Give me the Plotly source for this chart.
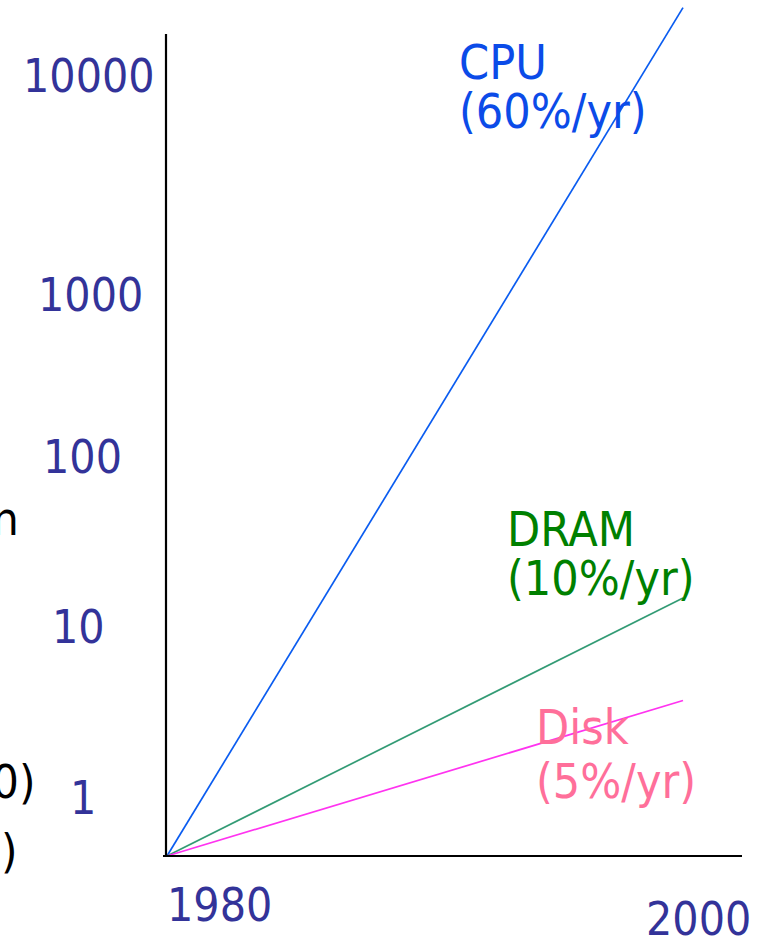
import plotly.graph_objects as go

W, H = 764, 937

# ---- data ----
years = [1980, 2000]
cpu = [1, 23000]
dram = [1, 21.2]
disk = [1, 6.3]
y_tick_labels = ["10000", "1000", "100", "10", "1"]
x_tick_labels = ["1980", "2000"]

FONT = "DejaVu Sans Condensed, DejaVu Sans, sans-serif"
TICK_COLOR = "#333399"


def px(x):
    return x / W


def py(y):
    return (H - y) / H


# axis mapping: 1980 -> px 167, 2000 -> px 683 ; log 0 -> px 856, 194.5 px / decade
ppy = (683 - 167) / 20.0
x_left_px, x_right_px = 166, 742
x_range = [1980 + (x_left_px - 167) / ppy, 1980 + (x_right_px - 167) / ppy]
y_top_px, y_bot_px = 0, 866
ppd = 194.5
y_range = [(856 - y_bot_px) / ppd, (856 - y_top_px) / ppd]

fig = go.Figure()
fig.add_trace(go.Scatter(x=years, y=cpu, mode="lines", line=dict(color="#0A5CF0", width=1.7), name="CPU"))
fig.add_trace(go.Scatter(x=years, y=dram, mode="lines", line=dict(color="#339B75", width=1.7), name="DRAM"))
fig.add_trace(go.Scatter(x=years, y=disk, mode="lines", line=dict(color="#FF33F0", width=1.7), name="Disk"))

fig.update_layout(
    width=W, height=H,
    margin=dict(l=0, r=0, t=0, b=0),
    paper_bgcolor="white", plot_bgcolor="white",
    showlegend=False,
    xaxis=dict(domain=[px(x_left_px), px(x_right_px)], range=x_range, visible=False, fixedrange=True),
    yaxis=dict(domain=[py(y_bot_px), py(y_top_px)], range=y_range, type="log", visible=False, fixedrange=True),
)

# axis lines
fig.add_shape(type="line", xref="paper", yref="paper", x0=px(163), x1=px(742), y0=py(856), y1=py(856),
              line=dict(color="black", width=2.2))
fig.add_shape(type="line", xref="paper", yref="paper", x0=px(166), x1=px(166), y0=py(856), y1=py(34),
              line=dict(color="black", width=2.2))

anns = []
# y tick labels (hand placed on the slide)
y_tick_pos = [(89, 76), (90, 295), (82, 457), (78, 627), (83, 798)]
for lab, (cx, cy) in zip(y_tick_labels, y_tick_pos):
    anns.append(dict(text=lab, x=px(cx), y=py(cy), xref="paper", yref="paper", xanchor="center", yanchor="middle",
                     showarrow=False, font=dict(family=FONT, size=46, color=TICK_COLOR)))
x_tick_pos = [(219, 905), (698, 919)]
for lab, (cx, cy) in zip(x_tick_labels, x_tick_pos):
    anns.append(dict(text=lab, x=px(cx), y=py(cy), xref="paper", yref="paper", xanchor="center", yanchor="middle",
                     showarrow=False, font=dict(family=FONT, size=46, color=TICK_COLOR)))

series_labels = [
    ("CPU", 457, 62, "#0B4BE8"),
    ("(60%/yr)", 457, 111, "#0B4BE8"),
    ("DRAM", 505, 529, "#008000"),
    ("(10%/yr)", 505, 578, "#008000"),
    ("Disk", 534, 727, "#FF6F9A"),
    ("(5%/yr)", 534, 781, "#FF6F9A"),
]
for txt, lx, cy, col in series_labels:
    anns.append(dict(text=txt, x=px(lx), y=py(cy), xref="paper", yref="paper", xanchor="left", yanchor="middle",
                     showarrow=False, font=dict(family=FONT, size=48, color=col)))

# cropped slide text fragments on the left edge
frags = [("n", 21, 518), ("0)", 37, 781), (")", 20, 850)]
for txt, rx, cy in frags:
    anns.append(dict(text=txt, x=px(rx), y=py(cy), xref="paper", yref="paper", xanchor="right", yanchor="middle",
                     showarrow=False, font=dict(family=FONT, size=47, color="black")))

fig.update_layout(annotations=anns)
fig.write_html("out.html", config={"displayModeBar": False},
               post_script="document.body.style.margin='0';document.body.style.overflow='hidden';")
